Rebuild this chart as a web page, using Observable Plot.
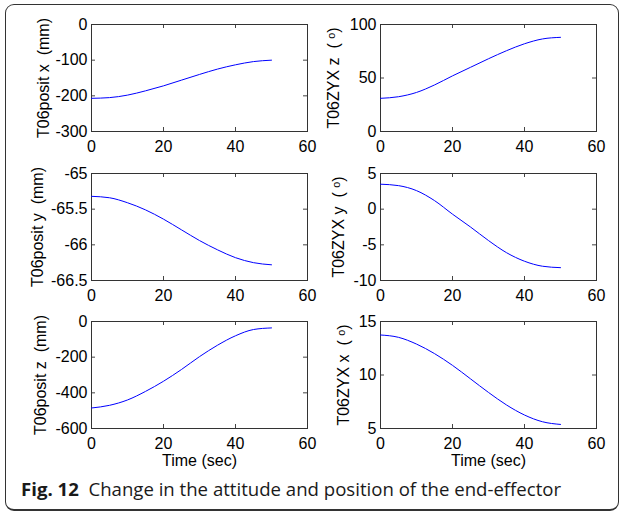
<!DOCTYPE html>
<html><head><meta charset="utf-8">
<script src="https://cdn.jsdelivr.net/npm/d3@7"></script>
<script src="https://cdn.jsdelivr.net/npm/@observablehq/plot@0.6"></script>
<style>
body{margin:0;background:#fff;}
#fig{position:relative;width:624px;height:514px;overflow:hidden;background:#fff;}
#border{position:absolute;left:5px;top:4px;width:614px;height:507px;border:1.5px solid #333;border-bottom-width:2px;border-radius:9px;box-sizing:border-box;}
.panel{position:absolute;}
#caption{position:absolute;left:21px;top:476px;font-family:"Open Sans",sans-serif;font-size:18.6px;color:#1a1a1a;white-space:nowrap;}
</style></head>
<body>
<div id="fig"><div id="border"></div><div id="caption"><b>Fig. 12</b>&nbsp; Change in the attitude and position of the end-effector</div></div>
<script>
const time = [0,5,10,15,20,25,30,35,40,45,50];
const positX = [-207,-205,-198,-186,-172,-156,-140,-125,-113,-104,-100];
const zyxZ = [31,32.5,36.5,43.5,52,60,68,75.5,82,86.5,88];
const positY = [-65.32,-65.34,-65.41,-65.51,-65.64,-65.79,-65.94,-66.07,-66.18,-66.25,-66.28];
const zyxY = [3.5,3.3,2.6,1.2,-0.7,-2.5,-4.4,-6.1,-7.3,-8.0,-8.2];
const positZ = [-485,-470,-440,-392,-335,-269,-197,-133,-80,-45,-36];
const zyxX = [13.74,13.52,12.89,12.0,10.9,9.64,8.37,7.2,6.26,5.63,5.38];

const timeTicks = [0,20,40,60];
const positXTicks = [-300,-200,-100,0];
const zyxZTicks = [0,50,100];
const positYTicks = [-66.5,-66,-65.5,-65];
const zyxYTicks = [-10,-5,0,5];
const positZTicks = [-600,-400,-200,0];
const zyxXTicks = [5,10,15];

const panels = [
  {values: positX, label: "T06posit x  (mm)", domain: [-300,0], ticks: positXTicks, col: 0, row: 0, off: 54},
  {values: zyxZ, label: "T06ZYX z  ( ᵒ)", domain: [0,100], ticks: zyxZTicks, col: 1, row: 0, off: 53},
  {values: positY, label: "T06posit y  (mm)", domain: [-66.5,-65], ticks: positYTicks, col: 0, row: 1, off: 60},
  {values: zyxY, label: "T06ZYX y  ( ᵒ)", domain: [-10,5], ticks: zyxYTicks, col: 1, row: 1, off: 48},
  {values: positZ, label: "T06posit z  (mm)", domain: [-600,0], ticks: positZTicks, col: 0, row: 2, off: 57},
  {values: zyxX, label: "T06ZYX x  ( ᵒ)", domain: [5,15], ticks: zyxXTicks, col: 1, row: 2, off: 43}
];

const colLeft = [91, 380];
const rowTop = [24, 172.5, 320.5];
const innerW = 216, innerH = 107, ml = 70, mr = 10, mt = 10, mb = 48;
const fig = document.getElementById("fig");

for (const p of panels) {
  const data = time.map((t, i) => ({t, v: p.values[i]}));
  const svg = Plot.plot({
    width: ml + innerW + mr, height: mt + innerH + mb,
    marginLeft: ml, marginRight: mr, marginTop: mt, marginBottom: mb,
    style: {background: "transparent", fontFamily: "'Liberation Sans', Arial, sans-serif", fontSize: "16px", color: "#000", overflow: "visible"},
    x: {domain: [0, 60]},
    y: {domain: p.domain},
    marks: [
      Plot.tickX(timeTicks, {x: d => d, insetTop: innerH - 4, stroke: "#444"}),
      Plot.tickX(timeTicks, {x: d => d, insetBottom: innerH - 4, stroke: "#444"}),
      Plot.tickY(p.ticks, {y: d => d, insetRight: innerW - 4, stroke: "#444"}),
      Plot.tickY(p.ticks, {y: d => d, insetLeft: innerW - 4, stroke: "#444"}),
      Plot.frame({stroke: "#333"}),
      Plot.line(data, {x: "t", y: "v", stroke: "#0000ff", strokeWidth: 1, curve: "monotone-x"}),
      Plot.axisX({ticks: timeTicks, tickSize: 0, tickPadding: 9, tickFormat: d => String(d),
        label: p.row === 2 ? "Time (sec)" : null, labelAnchor: "center", labelOffset: 37, labelArrow: "none"}),
      Plot.axisY({ticks: p.ticks, tickSize: 0, tickPadding: 4, tickFormat: d => String(d),
        label: p.label, labelAnchor: "center", labelOffset: p.off, labelArrow: "none"})
    ]
  });
  svg.classList.add("panel");
  svg.style.left = (colLeft[p.col] - ml) + "px";
  svg.style.top = (rowTop[p.row] - mt) + "px";
  svg.style.position = "absolute";
  fig.appendChild(svg);
}
</script>
</body></html>
